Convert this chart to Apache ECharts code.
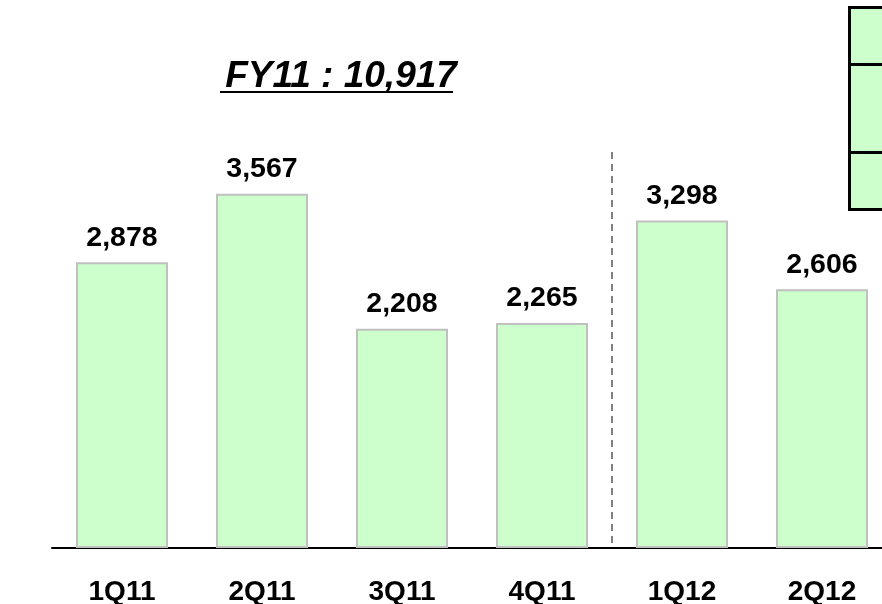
<!DOCTYPE html>
<html lang="en">
<head>
    <meta charset="UTF-8">
    <title>FY11 quarterly</title>
    <script src="https://cdn.jsdelivr.net/npm/echarts@6/dist/echarts.min.js"></script>
    <style>
        html, body { margin: 0; padding: 0; background: #fff; }
        #main { width: 882px; height: 604px; }
    </style>
</head>
<body>
<div id="main"></div>
<script type="text/javascript">
    // data
    var quarters = ['1Q11', '2Q11', '3Q11', '4Q11', '1Q12', '2Q12'];
    var sales = [2878, 3567, 2208, 2265, 3298, 2606];
    var titleText = 'FY11 : 10,917';

    var font = 'Liberation Sans, Arial, sans-serif';
    var myChart = echarts.init(document.getElementById('main'));

    var option = {
        animation: false,
        backgroundColor: '#ffffff',
        title: {
            text: titleText,
            left: 336,
            top: 53,
            textAlign: 'center',
            textStyle: {
                fontFamily: font,
                fontSize: 37,
                fontWeight: 'bold',
                fontStyle: 'italic',
                color: '#000'
            }
        },
        grid: {
            left: 52,
            right: -10,
            top: 51.5,
            bottom: 56,
            outerBoundsMode: 'none'
        },
        xAxis: {
            type: 'category',
            data: quarters,
            axisTick: { show: false },
            axisLine: { lineStyle: { color: '#000', width: 2 } },
            axisLabel: {
                margin: 30,
                fontFamily: font,
                fontSize: 28,
                fontWeight: 'bold',
                color: '#000'
            }
        },
        yAxis: {
            type: 'value',
            min: 0,
            max: 5000,
            show: false,
            splitLine: { show: false }
        },
        series: [
            {
                type: 'bar',
                data: sales,
                barWidth: 92,
                itemStyle: {
                    color: '#ccffcc',
                    borderColor: '#c0c0c0',
                    borderWidth: 2
                },
                label: {
                    show: true,
                    position: 'top',
                    distance: 10,
                    fontFamily: font,
                    fontSize: 28.5,
                    fontWeight: 'bold',
                    color: '#000',
                    formatter: function (p) {
                        return p.value.toLocaleString('en-US');
                    }
                }
            }
        ]
    };

    myChart.setOption(option);

    // dashed divider between fiscal years, underline of the title, cut-off table box
    var x4 = myChart.convertToPixel({ xAxisIndex: 0 }, '4Q11');
    var x5 = myChart.convertToPixel({ xAxisIndex: 0 }, '1Q12');
    var base = myChart.convertToPixel({ yAxisIndex: 0 }, 0);
    var midX = (x4 + x5) / 2;

    myChart.setOption({
        graphic: [
            {
                type: 'line',
                shape: { x1: midX, y1: 152, x2: midX, y2: base - 1 },
                style: { stroke: '#808080', lineWidth: 2, lineDash: [7, 5] }
            },
            {
                type: 'line',
                shape: { x1: 220, y1: 92, x2: 453, y2: 92 },
                style: { stroke: '#000', lineWidth: 2 }
            },
            {
                type: 'rect',
                shape: { x: 849.5, y: 7.5, width: 60, height: 57 },
                style: { fill: '#ccffcc', stroke: '#000', lineWidth: 3 }
            },
            {
                type: 'rect',
                shape: { x: 849.5, y: 64.5, width: 60, height: 88 },
                style: { fill: '#ccffcc', stroke: '#000', lineWidth: 3 }
            },
            {
                type: 'rect',
                shape: { x: 849.5, y: 152.5, width: 60, height: 57 },
                style: { fill: '#ccffcc', stroke: '#000', lineWidth: 3 }
            }
        ]
    });
</script>
</body>
</html>
